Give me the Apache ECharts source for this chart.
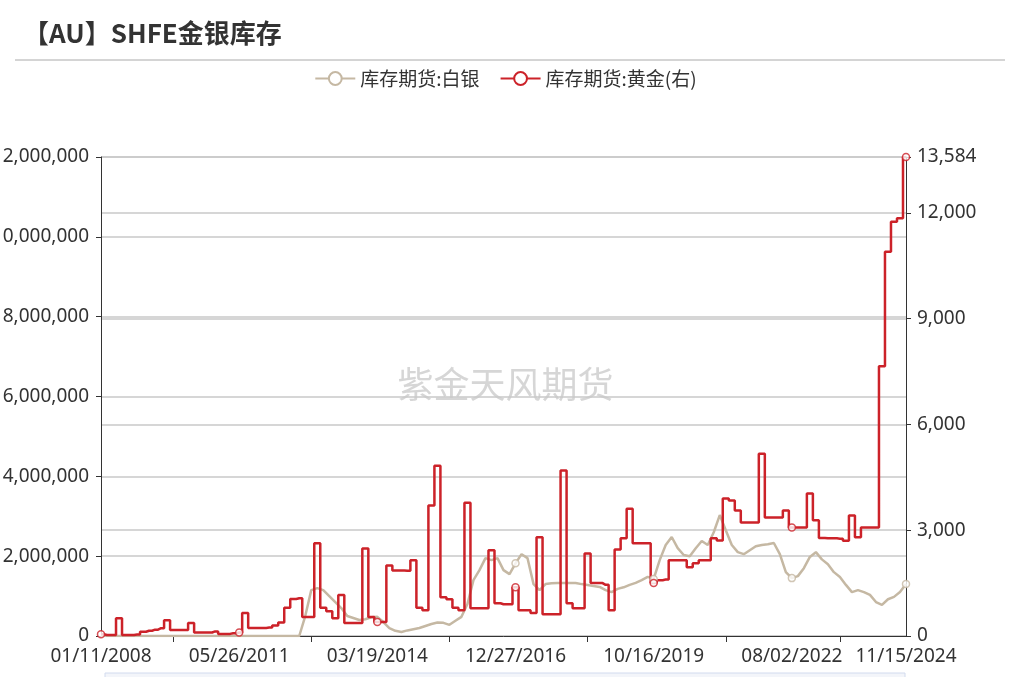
<!DOCTYPE html>
<html><head><meta charset="utf-8">
<script src="https://cdn.jsdelivr.net/npm/echarts@6/dist/echarts.min.js"></script>
<style>html,body{margin:0;padding:0;background:#fff}#c{width:1011px;height:677px}</style>
</head><body><div id="c"></div>
<script>
const labelAnchors = [[0,'2008-01-11'],[23,'2011-05-26'],[46,'2014-03-19'],[69,'2016-12-27'],[92,'2019-10-16'],[115,'2022-08-02'],[134,'2024-11-15']];
const gold = [50,30,30,500,30,30,40,120,150,180,220,450,170,170,170,370,100,100,100,130,60,60,80,100,650,230,230,230,240,300,
380,800,1050,1070,540,540,2630,800,700,500,1160,370,370,370,2480,540,400,400,2000,1860,1860,1850,2150,800,730,3700,4830,1100,1040,800,
730,3780,790,790,790,2430,930,900,900,1380,730,730,650,2800,620,620,620,4690,930,790,790,2340,1500,1500,1450,730,2450,2770,3610,2630,
2630,2630,1500,1580,1600,2150,2150,2150,1950,2060,2150,2150,2770,2710,3900,3840,3560,3220,3220,3220,5170,3360,3360,3360,3560,3080,3080,3080,4040,3280,
2780,2770,2770,2760,2700,3420,2800,3080,3080,3080,7650,10900,11750,11850,13584];
const silver = [0,0,0,0,0,0,0,0,0,0,0,0,0,0,0,0,0,0,0,0,0,0,0,0,0,0,0,0,0,0,0,0,0,0,
500000,1150000,1200000,1150000,1000000,850000,700000,500000,450000,400000,420000,470000,480000,350000,200000,130000,100000,140000,170000,200000,250000,300000,340000,330000,280000,380000,
480000,800000,1400000,1650000,1950000,1900000,1950000,1650000,1550000,1820000,2050000,1950000,1300000,1150000,1300000,1320000,1330000,1330000,1330000,1330000,1300000,1280000,1250000,1230000,1150000,1100000,1180000,1220000,1280000,1330000,
1400000,1480000,1430000,1900000,2280000,2480000,2200000,2030000,2000000,2200000,2380000,2280000,2600000,3030000,2650000,2280000,2100000,2050000,2150000,2250000,2280000,2300000,2330000,2050000,1600000,1450000,1500000,1700000,1980000,2100000,
1920000,1800000,1600000,1480000,1280000,1100000,1150000,1100000,1030000,850000,780000,920000,980000,1100000,1300000];
const tickIdx = new Set([12,35,58,81,104,123]);
const labelIdx = new Set(labelAnchors.map(a=>a[0]));
const cats = [];
function fmt(d){const m=String(d.getUTCMonth()+1).padStart(2,'0'),dd=String(d.getUTCDate()).padStart(2,'0');return m+'/'+dd+'/'+d.getUTCFullYear();}
for(let a=0;a<labelAnchors.length-1;a++){
  const [i0,s0]=labelAnchors[a],[i1,s1]=labelAnchors[a+1];
  const t0=Date.parse(s0),t1=Date.parse(s1);
  for(let i=i0;i<i1;i++){cats.push(fmt(new Date(t0+(t1-t0)*(i-i0)/(i1-i0))));}
}
cats.push(fmt(new Date(Date.parse(labelAnchors[labelAnchors.length-1][1]))));
const silverColor='#c5b8a3', goldColor='#cc2229';
const goldMarks = [...labelIdx].map(i=>[cats[i],gold[i]]);
const silverMarks = [...labelIdx].filter(i=>i>=69).map(i=>[cats[i],silver[i]]);
const chart=echarts.init(document.getElementById('c'));
chart.setOption({
  animation:false,
  title:{text:'【AU】SHFE金银库存',left:18,top:15,textStyle:{fontSize:26,fontWeight:'bold',color:'#333',fontFamily:'Noto Sans CJK SC'}},
  graphic:[{type:'line',shape:{x1:15,y1:60,x2:1005,y2:60},style:{stroke:'#aaa',lineWidth:1}},
    {type:'text',left:'center',top:366,style:{text:'紫金天风期货',fontSize:36,fill:'rgba(180,180,180,0.55)',fontFamily:'Noto Sans CJK SC'}},
    {type:'rect',shape:{x:105,y:673,width:800,height:20},style:{fill:'#f3f5fa',stroke:'#d2dbee'}}],
  legend:{top:64,left:'center',itemWidth:40,itemHeight:16,itemGap:20,textStyle:{fontSize:19,color:'#333',fontFamily:'Noto Sans CJK SC'},
    data:['库存期货:白银','库存期货:黄金(右)']},
  grid:{left:101,right:105,top:157,bottom:41,containLabel:false,outerBoundsMode:'none'},
  xAxis:{type:'category',boundaryGap:false,data:cats,
    axisLine:{lineStyle:{color:'#333'}},
    axisTick:{interval:(i)=>tickIdx.has(i),length:6,lineStyle:{color:'#333'}},
    axisLabel:{interval:(i)=>labelIdx.has(i),fontSize:19,color:'#333',margin:11,fontFamily:'Noto Sans'},
    splitLine:{show:false}},
  yAxis:[{type:'value',min:0,max:12000000,interval:2000000,
    axisLine:{show:true,lineStyle:{color:'#333'}},axisTick:{show:true,lineStyle:{color:'#333'}},
    axisLabel:{fontSize:19,color:'#333',margin:12,fontFamily:'Noto Sans',formatter:v=>v.toLocaleString('en-US')},
    splitLine:{lineStyle:{color:'#c8c8c8',width:1.5}}},
   {type:'value',min:0,max:13584,interval:3000,position:'right',
    axisLine:{show:true,lineStyle:{color:'#333'}},axisTick:{show:true,lineStyle:{color:'#333'}},
    axisLabel:{fontSize:19,color:'#333',margin:11,fontFamily:'Noto Sans',showMaxLabel:true,formatter:v=>v.toLocaleString('en-US')},
    splitLine:{lineStyle:{color:'#c8c8c8',width:1.5}}}],
  series:[
   {name:'库存期货:白银',type:'line',yAxisIndex:0,data:silver,color:silverColor,lineStyle:{width:2.5,color:silverColor},
    symbol:'emptyCircle',symbolSize:11,showSymbol:false,itemStyle:{color:silverColor}},
   {name:'库存期货:黄金(右)',type:'line',yAxisIndex:1,data:gold,step:'middle',color:goldColor,lineStyle:{width:2.5,color:goldColor},
    symbol:'emptyCircle',symbolSize:11,showSymbol:false,itemStyle:{color:goldColor}},
   {name:'silverMarks',type:'scatter',yAxisIndex:0,data:silverMarks,symbol:'circle',symbolSize:7,itemStyle:{color:'#fff',borderColor:silverColor,borderWidth:1.5},z:5},
   {name:'goldMarks',type:'scatter',yAxisIndex:1,data:goldMarks,symbol:'circle',symbolSize:7,itemStyle:{color:'#fff',borderColor:goldColor,borderWidth:1.5},z:5}
  ]
});
</script></body></html>
